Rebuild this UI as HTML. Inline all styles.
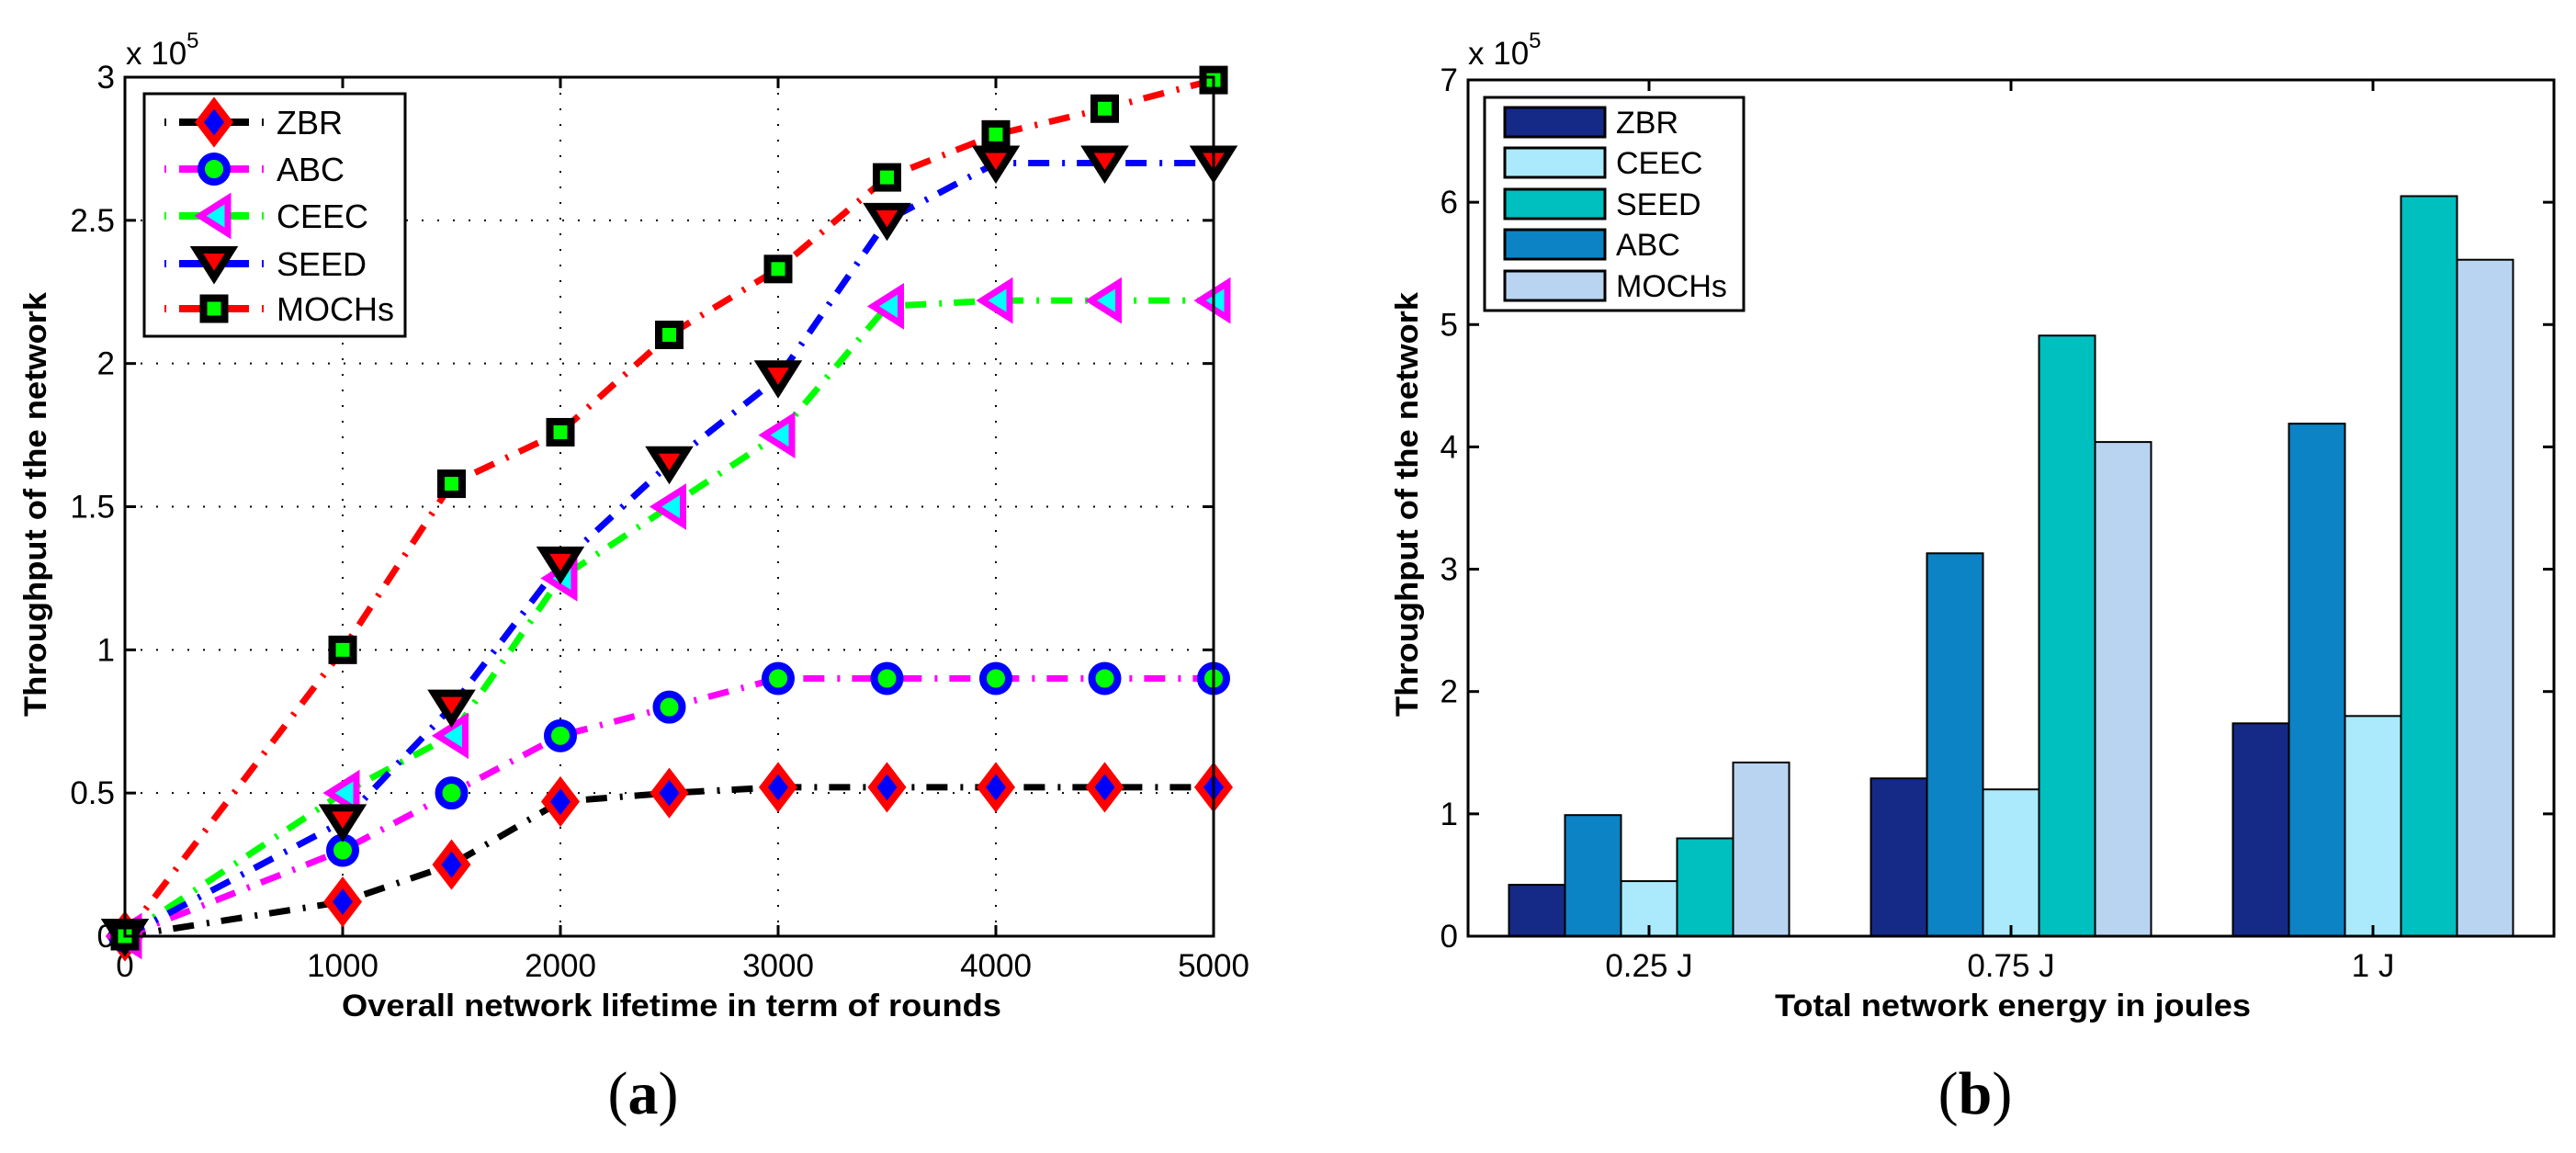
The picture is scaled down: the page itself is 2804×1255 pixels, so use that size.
<!DOCTYPE html>
<html><head><meta charset="utf-8"><style>
html,body{margin:0;padding:0;background:#fff;}
svg{display:block;font-family:"Liberation Sans",sans-serif;}
</style></head><body>
<svg id="fig" width="2804" height="1255" viewBox="0 0 2804 1255" xmlns="http://www.w3.org/2000/svg">
<rect width="2804" height="1255" fill="#fff"/>
<g id="chartA"></g>
<g id="chartB"></g>
</svg>
<script>
// ---------- Chart (a) data ----------
const roundsX = [0, 1000, 1500, 2000, 2500, 3000, 3500, 4000, 4500, 5000];
const zbrVals = [0, 0.12, 0.25, 0.47, 0.50, 0.52, 0.52, 0.52, 0.52, 0.52];
const abcVals = [0, 0.30, 0.50, 0.70, 0.80, 0.90, 0.90, 0.90, 0.90, 0.90];
const ceecVals = [0, 0.50, 0.70, 1.25, 1.50, 1.75, 2.20, 2.22, 2.22, 2.22];
const seedVals = [0, 0.40, 0.80, 1.30, 1.65, 1.95, 2.50, 2.70, 2.70, 2.70];
const mochsVals = [0, 1.00, 1.58, 1.76, 2.10, 2.33, 2.65, 2.80, 2.89, 2.99];
const xTicksA = [0, 1000, 2000, 3000, 4000, 5000];
const yTicksA = [0, 0.5, 1, 1.5, 2, 2.5, 3];
const yTickLabelsA = ["0", "0.5", "1", "1.5", "2", "2.5", "3"];
// ---------- Chart (b) data ----------
const energyCats = ["0.25 J", "0.75 J", "1 J"];
const barZBR = [0.42, 1.29, 1.74];
const barABC = [0.99, 3.13, 4.19];
const barCEEC = [0.45, 1.20, 1.80];
const barSEED = [0.80, 4.91, 6.05];
const barMOCHs = [1.42, 4.04, 5.53];
const yTicksB = [0, 1, 2, 3, 4, 5, 6, 7];

const NS = "http://www.w3.org/2000/svg";
function mk(tag, attrs, parent, text) {
  const e = document.createElementNS(NS, tag);
  for (const k in attrs) e.setAttribute(k, attrs[k]);
  if (text !== undefined) e.textContent = text;
  parent.appendChild(e);
  return e;
}

// ===== Chart A =====
const gA = document.getElementById('chartA');
const AL = 136, AR = 1321, AT = 84, AB = 1019;
const xA = v => AL + (v - 0) / 5000 * (AR - AL);
const yA = v => AB - v / 3 * (AB - AT);

xTicksA.forEach((t, i) => {
  if (i > 0 && i < xTicksA.length - 1) {
    const g = mk('line', {x1: xA(t), x2: xA(t), y1: AT, y2: AB, stroke: '#000', 'stroke-width': 2, 'stroke-dasharray': '2 15'}, gA);
    
    
  }
});
yTicksA.forEach((t, i) => {
  if (i > 0 && i < yTicksA.length - 1) {
    const g = mk('line', {x1: AL, x2: AR, y1: yA(t), y2: yA(t), stroke: '#000', 'stroke-width': 2, 'stroke-dasharray': '2 15'}, gA);
    
    
  }
});
xTicksA.forEach(t => {
  mk('line', {x1: xA(t), x2: xA(t), y1: AB, y2: AB - 12, stroke: '#000', 'stroke-width': 3}, gA);
  mk('line', {x1: xA(t), x2: xA(t), y1: AT, y2: AT + 12, stroke: '#000', 'stroke-width': 3}, gA);
  const l = mk('text', {x: xA(t), y: 1063, 'font-size': 35, 'text-anchor': 'middle'}, gA, String(t));
  
  
});
yTicksA.forEach((t, i) => {
  mk('line', {x1: AL, x2: AL + 12, y1: yA(t), y2: yA(t), stroke: '#000', 'stroke-width': 3}, gA);
  mk('line', {x1: AR, x2: AR - 12, y1: yA(t), y2: yA(t), stroke: '#000', 'stroke-width': 3}, gA);
  const l = mk('text', {x: 125, y: yA(t) + 12, 'font-size': 35, 'text-anchor': 'end'}, gA, yTickLabelsA[i]);
  
  
});

const seriesA = [
  {name: 'ZBR', vals: zbrVals, color: '#000', marker: 'diamond'},
  {name: 'ABC', vals: abcVals, color: '#ff00ff', marker: 'circle'},
  {name: 'CEEC', vals: ceecVals, color: '#00ff00', marker: 'triLeft'},
  {name: 'SEED', vals: seedVals, color: '#0000ff', marker: 'triDown'},
  {name: 'MOCHs', vals: mochsVals, color: '#ff0000', marker: 'square'}
];
function marker(type, cx, cy, parent) {
  let e;
  if (type === 'diamond') e = mk('polygon', {points: `${cx},${cy-21} ${cx+16},${cy} ${cx},${cy+21} ${cx-16},${cy}`, fill: '#0000ff', stroke: '#ff0000', 'stroke-width': 8, 'stroke-linejoin': 'miter'}, parent);
  else if (type === 'circle') e = mk('circle', {cx: cx, cy: cy, r: 14, fill: '#00ff00', stroke: '#0000ff', 'stroke-width': 8}, parent);
  else if (type === 'triLeft') e = mk('polygon', {points: `${cx-15},${cy} ${cx+15},${cy-19} ${cx+15},${cy+19}`, fill: '#00ffff', stroke: '#ff00ff', 'stroke-width': 7}, parent);
  else if (type === 'triDown') e = mk('polygon', {points: `${cx-19},${cy-15} ${cx+19},${cy-15} ${cx},${cy+15}`, fill: '#ff0000', stroke: '#000', 'stroke-width': 8}, parent);
  else e = mk('rect', {x: cx - 11.5, y: cy - 11.5, width: 23, height: 23, fill: '#00ff00', stroke: '#000', 'stroke-width': 8}, parent);
  return e;
}
seriesA.forEach(s => {
  const pts = s.vals.map((v, i) => `${xA(roundsX[i])},${yA(v)}`).join(' ');
  const pl = mk('polyline', {points: pts, fill: 'none', stroke: s.color, 'stroke-width': 7, 'stroke-dasharray': '23 14 3 13'}, gA);
  
  
});
seriesA.forEach(s => {
  s.vals.forEach((v, i) => {
    const m = marker(s.marker, xA(roundsX[i]), yA(v), gA);
    
    
  });
});
const boxA = mk('rect', {x: AL, y: AT, width: AR - AL, height: AB - AT, fill: 'none', stroke: '#000', 'stroke-width': 3}, gA);


const legA = mk('g', {}, gA);


mk('rect', {x: 157, y: 102, width: 284, height: 264, fill: '#fff', stroke: '#000', 'stroke-width': 3}, legA);
const legYA = [133, 184, 235, 287, 336];
seriesA.forEach((s, i) => {
  const y = legYA[i];
  const ent = mk('g', {}, legA);
  
  
  mk('line', {x1: 179, x2: 181, y1: y, y2: y, stroke: s.color, 'stroke-width': 8}, ent);
  mk('line', {x1: 195, x2: 271, y1: y, y2: y, stroke: s.color, 'stroke-width': 8}, ent);
  mk('line', {x1: 285, x2: 287, y1: y, y2: y, stroke: s.color, 'stroke-width': 8}, ent);
  marker(s.marker, 233, y, ent);
  mk('text', {x: 301, y: y + 13, 'font-size': 36}, ent, s.name);
});
const sciA = mk('text', {x: 137, y: 70, 'font-size': 35}, gA);


sciA.innerHTML = 'x 10<tspan font-size="24" dy="-18">5</tspan>';
const xlA = mk('text', {x: 731, y: 1106, 'font-size': 34, 'font-weight': 'bold', 'text-anchor': 'middle', textLength: 718, lengthAdjust: 'spacingAndGlyphs'}, gA, 'Overall network lifetime in term of rounds');


const ylA = mk('text', {x: 0, y: 0, 'font-size': 34, 'font-weight': 'bold', 'text-anchor': 'middle', textLength: 462, lengthAdjust: 'spacingAndGlyphs', transform: 'translate(50,549) rotate(-90)'}, gA, 'Throughput of the network');


const capA = mk('text', {x: 700, y: 1212, 'font-size': 66, 'text-anchor': 'middle', 'font-family': '"Liberation Serif",serif'}, gA);


capA.innerHTML = '(<tspan font-weight="bold">a</tspan>)';

// ===== Chart B =====
const gB = document.getElementById('chartB');
const BL = 1598, BR = 2780, BT = 87, BB = 1019;
const xB = i => BL + (i + 0.5) / 3 * (BR - BL);
const yB = v => BB - v / 7 * (BB - BT);
const barW = 61;
const seriesB = [
  {name: 'ZBR', vals: barZBR, color: '#152a87'},
  {name: 'ABC', vals: barABC, color: '#0b83c5'},
  {name: 'CEEC', vals: barCEEC, color: '#aaeafc'},
  {name: 'SEED', vals: barSEED, color: '#00bfbf'},
  {name: 'MOCHs', vals: barMOCHs, color: '#b9d4f1'}
];
seriesB.forEach((s, si) => {
  s.vals.forEach((v, ci) => {
    const x = xB(ci) + (si - 2.5) * barW;
    const b = mk('rect', {x: x, y: yB(v), width: barW, height: BB - yB(v), fill: s.color, stroke: '#000', 'stroke-width': 2}, gB);
    
    
  });
});
yTicksB.forEach(t => {
  mk('line', {x1: BL, x2: BL + 12, y1: yB(t), y2: yB(t), stroke: '#000', 'stroke-width': 3}, gB);
  mk('line', {x1: BR, x2: BR - 12, y1: yB(t), y2: yB(t), stroke: '#000', 'stroke-width': 3}, gB);
  const l = mk('text', {x: 1587, y: yB(t) + 12, 'font-size': 35, 'text-anchor': 'end'}, gB, String(t));
  
  
});
energyCats.forEach((c, i) => {
  mk('line', {x1: xB(i), x2: xB(i), y1: BB, y2: BB - 12, stroke: '#000', 'stroke-width': 3}, gB);
  mk('line', {x1: xB(i), x2: xB(i), y1: BT, y2: BT + 12, stroke: '#000', 'stroke-width': 3}, gB);
  const l = mk('text', {x: xB(i), y: 1063, 'font-size': 35, 'text-anchor': 'middle'}, gB, c);
  
  
});
const boxB = mk('rect', {x: BL, y: BT, width: BR - BL, height: BB - BT, fill: 'none', stroke: '#000', 'stroke-width': 3}, gB);


const legB = mk('g', {}, gB);


mk('rect', {x: 1616, y: 106, width: 282, height: 232, fill: '#fff', stroke: '#000', 'stroke-width': 3}, legB);
const legOrderB = [0, 2, 3, 1, 4];
const legYB = [133, 177, 222, 266, 311];
legOrderB.forEach((si, i) => {
  const s = seriesB[si];
  const ent = mk('g', {}, legB);
  
  
  mk('rect', {x: 1638, y: legYB[i] - 16, width: 109, height: 32, fill: s.color, stroke: '#000', 'stroke-width': 3}, ent);
  mk('text', {x: 1759, y: legYB[i] + 12, 'font-size': 34}, ent, s.name);
});
const sciB = mk('text', {x: 1598, y: 70, 'font-size': 35}, gB);


sciB.innerHTML = 'x 10<tspan font-size="24" dy="-18">5</tspan>';
const xlB = mk('text', {x: 2191, y: 1106, 'font-size': 34, 'font-weight': 'bold', 'text-anchor': 'middle', textLength: 518, lengthAdjust: 'spacingAndGlyphs'}, gB, 'Total network energy in joules');


const ylB = mk('text', {x: 0, y: 0, 'font-size': 34, 'font-weight': 'bold', 'text-anchor': 'middle', textLength: 462, lengthAdjust: 'spacingAndGlyphs', transform: 'translate(1543,549) rotate(-90)'}, gB, 'Throughput of the network');


const capB = mk('text', {x: 2150, y: 1212, 'font-size': 66, 'text-anchor': 'middle', 'font-family': '"Liberation Serif",serif'}, gB);


capB.innerHTML = '(<tspan font-weight="bold">b</tspan>)';
</script>
</body></html>
